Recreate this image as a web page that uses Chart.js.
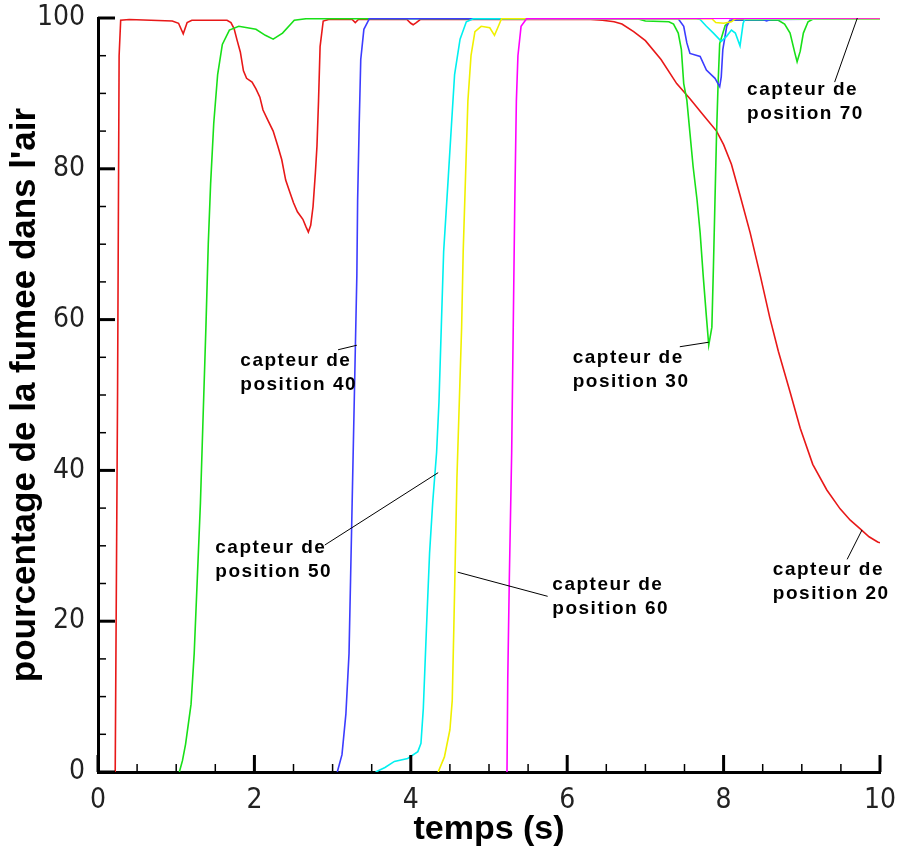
<!DOCTYPE html>
<html>
<head>
<meta charset="utf-8">
<script src="https://cdn.jsdelivr.net/npm/chart.js@4.4.0/dist/chart.umd.min.js"></script>
<style>
  html,body{margin:0;padding:0;background:#fff}
  #wrap{width:897px;height:852px}
</style>
</head>
<body>
<div id="wrap"><canvas id="c" width="897" height="852"></canvas></div>
<script>
/* smoke sensors: % smoke in air vs time, one curve per sensor position */
const t20=[0.22,0.25,0.27,0.29,0.4,0.95,1.03,1.09,1.14,1.2,1.65,1.7,1.74,1.78,1.82,1.86,1.9,1.97,2.02,2.07,2.11,2.17,2.24,2.3,2.35,2.4,2.45,2.5,2.55,2.62,2.66,2.69,2.72,2.75,2.78,2.8,2.82,2.84,2.88,2.95,3.25,3.29,3.33,3.95,4.0,4.03,4.07,4.12,6.3,6.45,6.6,6.7,6.85,7.0,7.2,7.4,7.57,7.75,7.91,8.0,8.1,8.21,8.34,8.47,8.59,8.7,8.85,8.98,9.14,9.32,9.49,9.62,9.74,9.86,9.97,10];
const v20=[0,50,95,99.7,99.8,99.6,99.3,97.9,99.4,99.7,99.7,99.4,98.6,97,95.5,93,92,91.5,90.6,89.5,87.8,86.5,85,83,81.2,78.5,77,75.5,74.3,73.3,72.3,71.6,72.5,75,79.5,83,89,96.2,99.6,99.8,99.8,99.4,99.8,99.8,99.3,99.1,99.4,99.8,99.8,99.7,99.5,99.2,98.2,97,94.5,91.3,89.3,87,85,83.2,80.6,76.5,71.5,65.8,60.3,55.8,50.4,45.6,40.8,37.4,34.9,33.4,32.3,31.2,30.5,30.4];

const t30=[1.04,1.08,1.12,1.19,1.23,1.27,1.31,1.34,1.38,1.41,1.44,1.48,1.53,1.59,1.68,1.8,2.02,2.14,2.24,2.36,2.51,2.66,6.9,7.0,7.3,7.36,7.42,7.46,7.49,7.53,7.57,7.61,7.66,7.7,7.74,7.78,7.81,7.85,7.87,7.89,7.91,7.93,7.95,8.02,8.1,8.7,8.78,8.85,8.91,8.94,8.98,9.02,9.08,9.15,10];
const v30=[0,1.5,3.7,9,15.7,25.7,35.7,45.8,59,70,78,86,92.5,96.5,98.4,98.9,98.5,97.7,97.2,98,99.7,99.9,99.9,99.6,99.5,99.2,98,95.8,91.3,89.1,84.7,80.3,75.9,71.5,65.7,60.4,56.6,59,67,75.9,84.7,91.4,96.6,99,99.7,99.7,99.2,98,95.4,94.2,95.6,98,99.5,99.9,99.9];

const t40=[3.06,3.12,3.17,3.21,3.23,3.25,3.27,3.29,3.31,3.32,3.34,3.36,3.4,3.47,7.42,7.49,7.53,7.57,7.7,7.78,7.89,7.95,7.97,7.99,8.04,8.08,8.5,8.55,8.6,10];
const v40=[0,2.3,7.7,15.7,25.7,35.7,45.8,55.8,65.8,75.8,85.8,94.5,98.5,99.9,99.9,98.9,96.7,95.3,94.9,93.1,92,90.9,92.2,95.8,98.9,99.7,99.8,99.6,99.8,99.9];

const t50=[3.55,3.67,3.79,3.96,4.09,4.13,4.16,4.2,4.24,4.28,4.33,4.36,4.39,4.42,4.48,4.52,4.56,4.63,4.71,4.8,7.65,7.7,7.78,7.87,7.97,8.04,8.1,8.15,8.21,8.25,8.27,10];
const v50=[0,0.6,1.4,1.8,2.7,3.8,8.4,19,29,35.7,42.4,49,59,69,79,85.8,92.5,97.2,99.5,99.9,99.9,99.8,98.9,98,96.9,97.6,98.4,98,96.3,99.3,99.8,99.9];

const t60=[4.35,4.43,4.5,4.53,4.55,4.57,4.59,4.62,4.65,4.67,4.7,4.73,4.77,4.82,4.9,5.01,5.07,5.12,5.16,7.85,7.9,8.0,8.1,8.15,10];
const v60=[0,2,5.6,9.5,19,29,39,49,59,69,79,89,95,98.2,98.9,98.7,97.7,98.9,99.9,99.9,99.4,99.3,99.5,99.9,99.9];

const t70=[5.23,5.24,5.26,5.29,5.31,5.33,5.35,5.37,5.41,5.48,10];
const v70=[0,12.4,25.7,42.4,59,75.8,89,95,98.9,99.9,100];

const xTicks=[0,2,4,6,8,10], yTicks=[0,20,40,60,80,100];
const xTitle='temps (s)', yTitle="pourcentage de la fumee dans l'air";

// callouts: text lines, first-line anchor, leader line from -> to (data coords)
const notes=[
  {text:['capteur de','position 40'], at:[1.82,54.6], from:[3.07,56.0], to:[3.31,56.6]},
  {text:['capteur de','position 50'], at:[1.50,29.7], from:[2.90,30.1], to:[4.35,39.7]},
  {text:['capteur de','position 60'], at:[5.81,24.8], from:[4.60,26.5], to:[5.75,23.3]},
  {text:['capteur de','position 30'], at:[6.07,55.0], from:[7.44,56.4], to:[7.81,57.0]},
  {text:['capteur de','position 70'], at:[8.30,90.5], from:[9.42,91.5], to:[9.71,100]},
  {text:['capteur de','position 20'], at:[8.63,26.8], from:[9.58,28.2], to:[9.77,32.1]}
];

function pts(ts,vs){ return ts.map((t,i)=>({x:t,y:vs[i]})); }
function line(label,ts,vs,color,order){
  return {label, data:pts(ts,vs), borderColor:color, backgroundColor:color, borderWidth:1.6,
    pointRadius:0, tension:0, fill:false, order};
}

const tickMarks={
  id:'tickMarks',
  afterDraw(ch){
    const {ctx, chartArea:a, scales:{x,y}}=ch;
    ctx.save(); ctx.strokeStyle='#000';
    for(let i=0;i<=20;i++){
      const v=i*0.5, major=xTicks.includes(v), px=x.getPixelForValue(v);
      ctx.lineWidth=major?3:1.5; ctx.beginPath();
      ctx.moveTo(px,a.bottom); ctx.lineTo(px,a.bottom-(major?17:8)); ctx.stroke();
    }
    for(let i=0;i<=20;i++){
      const v=i*5, major=yTicks.includes(v), py=y.getPixelForValue(v);
      ctx.lineWidth=major?3:1.5; ctx.beginPath();
      ctx.moveTo(a.left,py); ctx.lineTo(a.left+(major?17:8),py); ctx.stroke();
    }
    ctx.restore();
  }
};

const callouts={
  id:'callouts',
  afterDraw(ch){
    const {ctx, scales:{x,y}}=ch;
    ctx.save();
    ctx.strokeStyle='#000'; ctx.lineWidth=1;
    ctx.fillStyle='#000'; ctx.font='bold 19px "Liberation Sans", Arial, sans-serif';
    ctx.textBaseline='middle'; ctx.textAlign='left';
    if('letterSpacing' in ctx) ctx.letterSpacing='1.5px';
    notes.forEach(n=>{
      ctx.beginPath();
      ctx.moveTo(x.getPixelForValue(n.from[0]), y.getPixelForValue(n.from[1]));
      ctx.lineTo(x.getPixelForValue(n.to[0]), y.getPixelForValue(n.to[1]));
      ctx.stroke();
      const px=x.getPixelForValue(n.at[0]), py=y.getPixelForValue(n.at[1]);
      n.text.forEach((s,k)=> ctx.fillText(s, px, py+k*24));
    });
    ctx.restore();
  }
};

const tickFont={family:'"Liberation Sans Narrow", "DejaVu Sans Condensed", sans-serif', size:28};
const titleFont={family:'"Liberation Sans", Arial, sans-serif', size:34, weight:'bold'};

new Chart(document.getElementById('c').getContext('2d'), {
  type:'line',
  data:{ datasets:[
    line('capteur de position 20', t20, v20, '#e81818', 6),
    line('capteur de position 30', t30, v30, '#18e018', 5),
    line('capteur de position 40', t40, v40, '#3c3cff', 4),
    line('capteur de position 50', t50, v50, '#00f0f0', 3),
    line('capteur de position 60', t60, v60, '#f0f000', 2),
    line('capteur de position 70', t70, v70, '#ff00ff', 1)
  ]},
  options:{
    responsive:false, animation:false, devicePixelRatio:1,
    layout:{ padding:{top:18, right:17, left:0, bottom:0} },
    plugins:{ legend:{display:false}, tooltip:{enabled:false} },
    scales:{
      x:{ type:'linear', min:0, max:10,
        afterBuildTicks(s){ s.ticks=xTicks.map(v=>({value:v})); },
        ticks:{ font:tickFont, color:'#222', padding:12, maxRotation:0, autoSkip:false },
        grid:{ display:false, drawTicks:false },
        border:{ display:true, width:3, color:'#000' },
        title:{ display:true, text:xTitle, color:'#000', font:titleFont, padding:{top:0, bottom:2} },
        afterFit(s){ s.height=80; s.paddingLeft=0; s.paddingRight=0; }
      },
      y:{ min:0, max:100,
        afterBuildTicks(s){ s.ticks=yTicks.map(v=>({value:v})); },
        ticks:{ font:tickFont, color:'#222', padding:13 },
        grid:{ display:false, drawTicks:false },
        border:{ display:true, width:3, color:'#000' },
        title:{ display:true, text:yTitle, color:'#000', font:{...titleFont, size:35}, padding:{top:4, bottom:0} },
        afterFit(s){ s.width=98; s.paddingTop=0; s.paddingBottom=0; }
      }
    }
  },
  plugins:[tickMarks, callouts]
});
</script>
</body>
</html>
